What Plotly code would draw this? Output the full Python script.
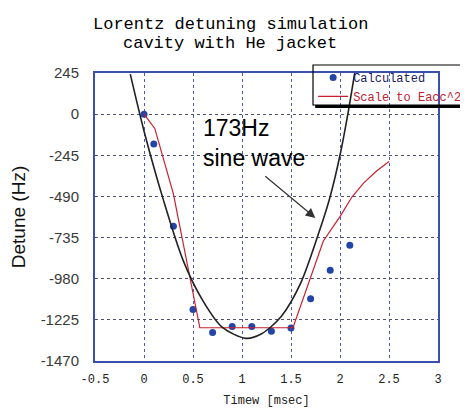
import plotly.graph_objects as go

# ---- data ----
calc_x = [0, 0.1, 0.3, 0.5, 0.7, 0.9, 1.1, 1.3, 1.5, 1.7, 1.9, 2.1]
calc_y = [0, -178, -668, -1164, -1301, -1265, -1265, -1293, -1273, -1099, -929, -781]

scale_x = [0, 0.11, 0.3, 0.57, 1.52, 1.7, 1.83, 2.0, 2.12, 2.24, 2.37, 2.5]
scale_y = [0, -85, -475, -1272, -1272, -964, -755, -610, -495, -411, -340, -282]

sine_x = [-0.14, 0, 0.2, 0.4, 0.6, 0.8, 1.04, 1.2, 1.4, 1.6, 1.8, 1.9, 2.0, 2.08, 2.15]
sine_y = [238, -100, -515, -872, -1110, -1270, -1335, -1308, -1205, -1005, -678, -490, -245, 0, 245]

x_ticks = [-0.5, 0, 0.5, 1, 1.5, 2, 2.5, 3]
x_tick_labels = ["-0.5", "0", "0.5", "1", "1.5", "2", "2.5", "3"]
y_ticks = [245, 0, -245, -490, -735, -980, -1225, -1470]
y_tick_labels = ["245", "0", "-245", "-490", "-735", "-980", "-1225", "-1470"]

MONO = "Liberation Mono"
SANS = "Liberation Sans"
FRAME = "#3b4fae"

fig = go.Figure()

fig.add_trace(go.Scatter(
    x=calc_x, y=calc_y, mode="markers",
    name="<span style='color:#1a1a60'>Calculated</span>",
    marker=dict(symbol="circle", size=7, color="#2445a8"),
))
fig.add_trace(go.Scatter(
    x=scale_x, y=scale_y, mode="lines",
    name="<span style='color:#c02030'>Scale to Eacc^2</span>",
    line=dict(color="#c8202e", width=1.2),
))
fig.add_trace(go.Scatter(
    x=sine_x, y=sine_y, mode="lines", showlegend=False,
    line=dict(color="#222222", width=1.6, shape="spline", smoothing=0.8),
))

# the page places the figure 8px from the top-left corner, so the figure is
# 8px smaller and margins are reduced accordingly
fig.update_layout(
    width=460, height=400,
    margin=dict(l=87, r=30, t=65, b=47, autoexpand=False),
    paper_bgcolor="white", plot_bgcolor="white",
    showlegend=True,
    legend=dict(
        x=0.636, y=1.035, xanchor="left", yanchor="top",
        bgcolor="rgba(0,0,0,0)", borderwidth=0,
        font=dict(family=MONO, size=12),
        tracegroupgap=0,
    ),
    xaxis=dict(
        range=[-0.5, 3], tickvals=x_ticks, ticktext=x_tick_labels,
        showgrid=True, gridcolor="#4a5ab8", griddash="dot", gridwidth=1,
        showline=True, linecolor=FRAME, linewidth=2, mirror=True,
        zeroline=False, ticks="", ticklabelstandoff=6, automargin=False,
        tickfont=dict(family=MONO, size=12, color="#222222"),
        title=dict(text="Timew [msec]", font=dict(family=MONO, size=12, color="#222222"), standoff=19),
    ),
    yaxis=dict(
        range=[-1470, 245], tickvals=y_ticks, ticktext=y_tick_labels,
        showgrid=True, gridcolor="#50506a", griddash="dot", gridwidth=1,
        showline=True, linecolor=FRAME, linewidth=2, mirror=True,
        zeroline=False, ticks="", ticklabelstandoff=11, automargin=False,
        tickfont=dict(family=SANS, size=15, color="#3a3a3a"),
        title=dict(text="Detune (Hz)", font=dict(family=SANS, size=19, color="#111111"), standoff=10),
    ),
    shapes=[
        dict(type="rect", xref="paper", yref="paper",
             x0=0.6356, x1=1.12, y0=0.8889, y1=1.0278,
             line=dict(color="black", width=1.2), fillcolor="rgba(0,0,0,0)", layer="above"),
        dict(type="line", xref="paper", yref="paper",
             x0=0.642, x1=1.12, y0=0.8836, y1=0.8836,
             line=dict(color="black", width=3), layer="above"),
    ],
    annotations=[
        dict(text="Lorentz detuning simulation", xref="paper", yref="paper",
             x=0.3936, y=1.170, xanchor="center", yanchor="middle", showarrow=False,
             font=dict(family=MONO, size=17, color="black")),
        dict(text="cavity with He jacket", xref="paper", yref="paper",
             x=0.3936, y=1.104, xanchor="center", yanchor="middle", showarrow=False,
             font=dict(family=MONO, size=17, color="black")),
        dict(text="173Hz<br>sine wave", xref="x", yref="y",
             x=0.579, y=-169, xanchor="left", yanchor="middle", align="left", showarrow=False,
             font=dict(family=SANS, size=23, color="black")),
        dict(text="", xref="x", yref="y", x=1.748, y=-618,
             axref="x", ayref="y", ax=1.222, ay=-362,
             showarrow=True, arrowhead=2, arrowsize=1.6, arrowwidth=1.2, arrowcolor="#333333"),
    ],
)

fig.write_html("out.html")
